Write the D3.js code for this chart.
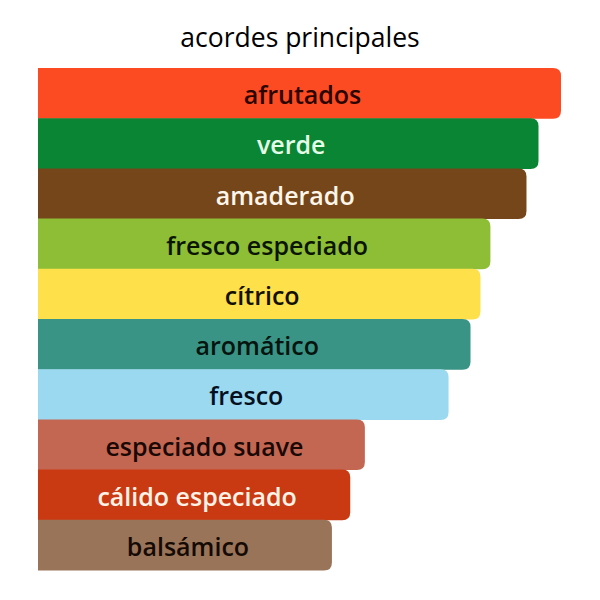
<!DOCTYPE html>
<html><head><meta charset="utf-8">
<script src="https://cdn.jsdelivr.net/npm/d3@7"></script>
<style>body{margin:0;background:#fff}svg{display:block}</style>
</head><body>
<svg id="c" width="600" height="600"></svg>
<script>
const title = "acordes principales";
const categories = ["afrutados","verde","amaderado","fresco especiado","cítrico","aromático","fresco","especiado suave","cálido especiado","balsámico"];
const values = [100,95.7,93.4,86.5,84.6,82.7,78.5,62.5,59.7,56.2];
const colors = ["#FC4A22","#0A8534","#75461A","#8EBE36","#FEE04A","#3A9485","#9BD9F0","#C36752","#C93A12","#9A7459"];
const textColors = ["#2a0500","#e6ffe8","#fff6ea","#0a1500","#141000","#04140f","#041020","#1a0804","#fff2e6","#140a03"];

const svg = d3.select("#c");
const x = d3.scaleLinear().domain([0,100]).range([38,561]);
const y = d3.scaleBand().domain(categories).range([68,570]).padding(0);
const r = 8;

svg.append("text").attr("x",300).attr("y",37).attr("text-anchor","middle")
  .attr("dominant-baseline","central")
  .style("font-family","'Open Sans', sans-serif").style("font-size","26.5px").attr("fill","#000")
  .text(title);

const data = categories.map((c,i)=>({c,v:values[i],col:colors[i],tc:textColors[i]}));
const g = svg.append("g").selectAll("g").data(data).join("g");
g.append("path").attr("fill",d=>d.col).attr("d",d=>{
  const x0=x(0), x1=x(d.v), y0=y(d.c), h=y.bandwidth()+0.5, y1=y0+h;
  return `M${x0},${y0}H${x1-r}Q${x1},${y0} ${x1},${y0+r}V${y1-r}Q${x1},${y1} ${x1-r},${y1}H${x0}Z`;
});
g.append("text").attr("x",d=>(x(0)+x(d.v))/2+3).attr("y",d=>y(d.c)+y.bandwidth()/2+1)
  .attr("text-anchor","middle").attr("dominant-baseline","central")
  .style("font-family","'Open Sans', sans-serif").style("font-size","25px").style("font-weight","600")
  .attr("fill",d=>d.tc).text(d=>d.c);
</script>
</body></html>
